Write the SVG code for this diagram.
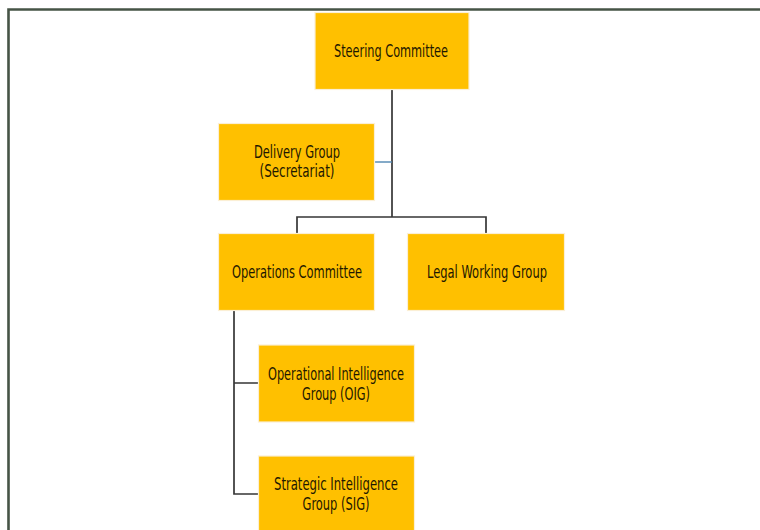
<svg xmlns="http://www.w3.org/2000/svg" width="760" height="530" viewBox="0 0 760 530">
<style>
.box{fill:#FFC000;stroke:#FBEFD5;stroke-width:1.2}
.t{font-family:"DejaVu Sans Condensed","DejaVu Sans","Liberation Sans",sans-serif;font-size:17px;fill:#1e1800;text-anchor:middle}
.c{fill:none;stroke:#363636;stroke-width:1.7}
</style>
<rect x="0" y="0" width="760" height="530" fill="#ffffff"/>
<path d="M8.5,530 V9.5 H760" fill="none" stroke="#465446" stroke-width="2.6"/>
<g id="connectors">
<path class="c" d="M392,90 V217 M297,233 V217 H486 V233"/>
<path d="M375,162 H392" fill="none" stroke="#4f86b0" stroke-width="1.4"/>
<path class="c" d="M234,311 V494 H258 M234,383 H258"/>
</g>
<g id="steering">
<rect class="box" x="315" y="12.5" width="154" height="77"/>
<text class="t" x="391" y="57" textLength="114" lengthAdjust="spacingAndGlyphs">Steering Committee</text>
</g>
<g id="delivery">
<rect class="box" x="218.5" y="123.5" width="156" height="77"/>
<text class="t" x="297" y="158" textLength="86" lengthAdjust="spacingAndGlyphs">Delivery Group</text>
<text class="t" x="297" y="177" textLength="75" lengthAdjust="spacingAndGlyphs">(Secretariat)</text>
</g>
<g id="operations">
<rect class="box" x="218.5" y="233.5" width="156" height="77"/>
<text class="t" x="297" y="278" textLength="130" lengthAdjust="spacingAndGlyphs">Operations Committee</text>
</g>
<g id="legal">
<rect class="box" x="407.5" y="233.5" width="157" height="77"/>
<text class="t" x="487" y="278" textLength="120" lengthAdjust="spacingAndGlyphs">Legal Working Group</text>
</g>
<g id="oig">
<rect class="box" x="258.5" y="345" width="156" height="77"/>
<text class="t" x="336" y="380" textLength="136" lengthAdjust="spacingAndGlyphs">Operational Intelligence</text>
<text class="t" x="336" y="400" textLength="68" lengthAdjust="spacingAndGlyphs">Group (OIG)</text>
</g>
<g id="sig">
<rect class="box" x="258.5" y="456" width="156" height="80"/>
<text class="t" x="336" y="490" textLength="124" lengthAdjust="spacingAndGlyphs">Strategic Intelligence</text>
<text class="t" x="336" y="510" textLength="67" lengthAdjust="spacingAndGlyphs">Group (SIG)</text>
</g>
</svg>
